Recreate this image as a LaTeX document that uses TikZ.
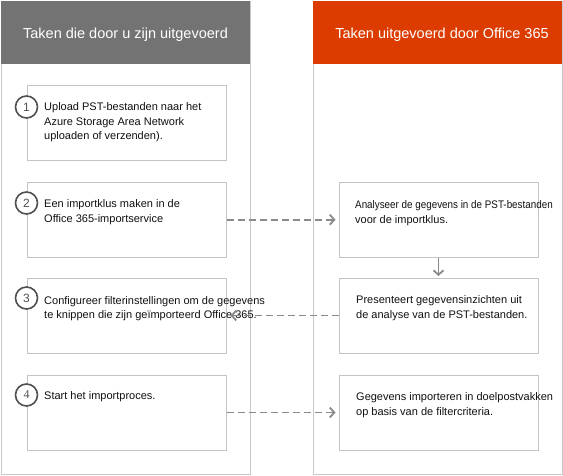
\documentclass[tikz,border=0pt]{standalone}
\usepackage{fontspec}
\setmainfont{Liberation Sans}
\newfontfamily\serifnum{Liberation Serif}
\usetikzlibrary{arrows.meta}
\definecolor{hdrgray}{HTML}{737373}
\definecolor{hdrorange}{HTML}{DC3C00}
\definecolor{panelline}{HTML}{C8C8C8}
\definecolor{boxline}{HTML}{C4C4C4}
\definecolor{circline}{HTML}{505050}
\definecolor{arrowgray}{HTML}{8A8A8A}
\definecolor{txt}{HTML}{111111}
\begin{document}
\begin{tikzpicture}[x=1pt,y=-1pt,
 panel/.style={draw=panelline, line width=1pt, fill=white, minimum width=249pt, minimum height=473pt, inner sep=0pt, anchor=north west},
 hdr/.style={fill=#1, minimum width=249pt, minimum height=63pt, inner sep=0pt, anchor=north west},
 hdrtext/.style={inner sep=0pt, text=white, font=\fontsize{14.5}{17}\selectfont},
 stepbox/.style={draw=boxline, line width=1pt, fill=white, minimum width=199pt, minimum height=75pt, inner sep=0pt},
 numcirc/.style={circle, draw=circline, line width=1.6pt, fill=white, minimum size=22pt, inner sep=0pt, font=\fontsize{12}{12}\selectfont, text=circline},
 boxtext/.style={anchor=west, align=left, inner sep=0pt, text=txt, font=\fontsize{11}{14.5}\selectfont},
 dasharrow/.style={draw=arrowgray, line width=1.8pt, dash pattern=on 7pt off 4pt, -{Straight Barb[length=4.5pt,width=10pt]}},
 solidarrow/.style={draw=arrowgray, line width=1.8pt, -{Straight Barb[length=4.5pt,width=10pt]}}]
\useasboundingbox (0,0) rectangle (563,475);
\fill[white] (0,0) rectangle (563,475);
% panels
\node[panel] (lpanel) at (1,1) {};
\node[panel] (rpanel) at (313,1) {};
\node[hdr=hdrgray] (lhdr) at (1,1) {};
\node[hdr=hdrorange] (rhdr) at (313,1) {};
\node[hdrtext] (lhdrt) at (125.5,35) {Taken die door u zijn uitgevoerd};
\node[hdrtext] (rhdrt) at (442,35) {Taken uitgevoerd door Office 365};
% left boxes
\node[stepbox] (b1) at (126.5,122.5) {};
\node[stepbox] (b2) at (126.5,219.7) {};
\node[stepbox] (b3) at (126.5,315.5) {};
\node[stepbox] (b4) at (126.5,412.5) {};
% right boxes
\node[stepbox] (r2) at (438.5,219.7) {};
\node[stepbox] (r3) at (438.5,315.5) {};
\node[stepbox] (r4) at (438.5,412.5) {};
% circles
\node[numcirc] (c1) at (26.5,107) {1};
\node[numcirc] (c2) at (26.5,203) {2};
\node[numcirc] (c3) at (26.5,298) {3};
\node[numcirc] (c4) at (26.5,395) {\serifnum 4};
% texts
\node[boxtext] (t1) at (44,122.5) {Upload PST-bestanden naar het\\Azure Storage Area Network\\uploaden of verzenden).};
\node[boxtext] (t2) at (44,212) {Een importklus maken in de\\Office 365-importservice};
\node[boxtext] (t3) at (44,308.5) {Configureer filterinstellingen om de gegevens\\te knippen die zijn geïmporteerd Office 365.};
\node[boxtext] (t4) at (44,397) {Start het importproces.};
\node[boxtext] (u2) at (355,213) {\scalebox{0.895}[1]{Analyseer de gegevens in de PST-bestanden}\\voor de importklus.};
\node[boxtext] (u3) at (356,308) {Presenteert gegevensinzichten uit\\de analyse van de PST-bestanden.};
\node[boxtext] (u4) at (356,405) {Gegevens importeren in doelpostvakken\\op basis van de filtercriteria.};
% arrows
\draw[dasharrow, shorten >=3pt] (b2.east) -- (r2.west);
\draw[solidarrow, shorten >=1.5pt] (r2.south) -- (r3.north);
\draw[dasharrow, shorten >=4pt] (r3.west) -- (b3.east);
\draw[dasharrow, shorten >=3pt] (b4.east) -- (r4.west);
\end{tikzpicture}
\end{document}
